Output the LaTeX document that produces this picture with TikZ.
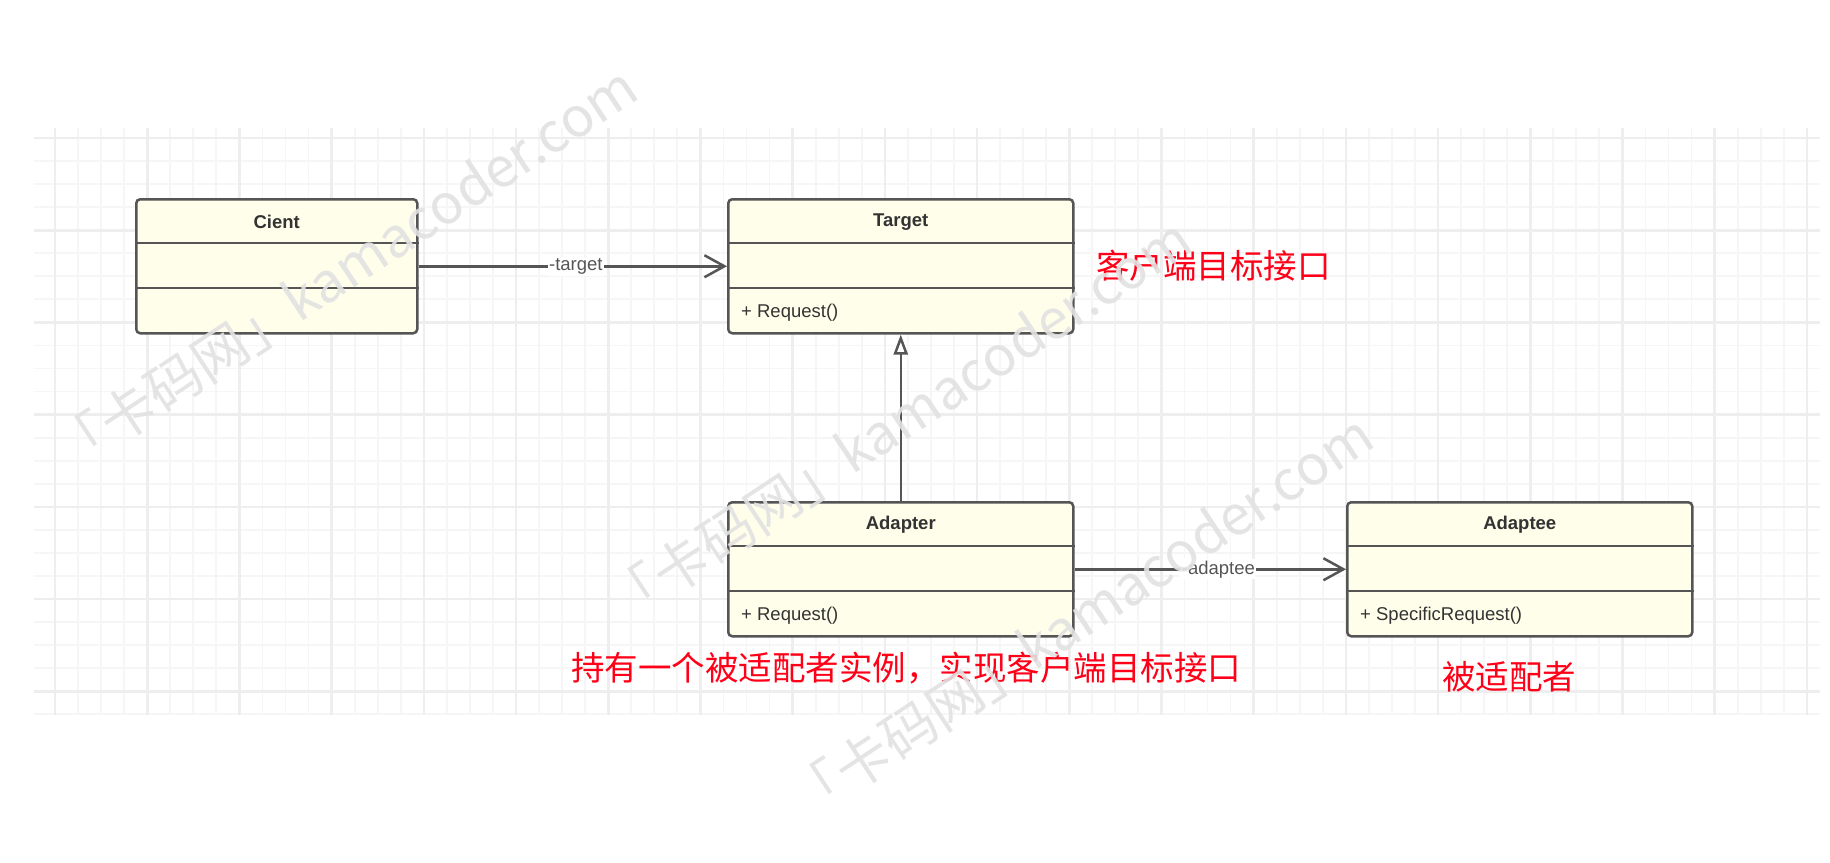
\documentclass[tikz,border=0pt]{standalone}
\usepackage{fontspec}
\setmainfont{Liberation Sans}
\newfontfamily\cjk{Noto Sans CJK SC}
\usetikzlibrary{arrows.meta}
\definecolor{linec}{HTML}{555555}
\definecolor{textc}{HTML}{333333}
\definecolor{clsfill}{HTML}{FEFEEA}
\definecolor{minorc}{HTML}{F6F6F6}
\definecolor{majorc}{HTML}{EEEEEE}
\definecolor{notered}{HTML}{FF0018}
\definecolor{wmark}{HTML}{E2E2E2}
\tikzset{
  cls/.style={draw=linec, fill=clsfill, line width=2.5pt, rounded corners=4pt,
    minimum width=#1, minimum height=134pt, inner sep=0pt, anchor=north west, rectangle},
  divider/.style={draw=linec, line width=2.5pt},
  clstitle/.style={font=\fontsize{18.5}{22}\selectfont\bfseries, text=textc, inner sep=0pt},
  method/.style={font=\fontsize{18.5}{22}\selectfont, text=textc, inner sep=0pt, anchor=west},
  assoc/.style={draw=linec, line width=2.5pt, -{Straight Barb[length=20pt, width=22pt, line width=2.5pt]}},
  inherit/.style={draw=linec, line width=2.5pt, -{Triangle[length=20pt, width=14pt, fill=white, line width=2.5pt]}},
  edgelabel/.style={font=\fontsize{18.5}{22}\selectfont, text=linec, fill=white, inner sep=1.5pt},
  note/.style={font=\cjk\fontsize{33.5}{38}\selectfont, text=notered, inner sep=0pt, anchor=west},
  wm/.style={font=\cjk\fontsize{55}{60}\selectfont, text=wmark, opacity=0.9, rotate=33.5, inner sep=0pt},
  minorgrid/.style={draw=minorc, line width=1.8pt},
  majorgrid/.style={draw=majorc, line width=2.6pt},
}
\begin{document}
\begin{tikzpicture}[x=1pt, y=-1pt]
\useasboundingbox (0,0) rectangle (1830,862);
\fill[white] (0,0) rectangle (1830,862);
% grid
\foreach \i in {0,...,76} \draw[minorgrid] ({55+23.05*\i},128) -- ({55+23.05*\i},715);
\foreach \i in {0,...,25} \draw[minorgrid] (34,{138+23.05*\i}) -- (1820,{138+23.05*\i});
\foreach \i in {0,...,19} \draw[majorgrid] ({55+92.2*\i},128) -- ({55+92.2*\i},715);
\foreach \i in {0,...,6} \draw[majorgrid] (34,{138+92.2*\i}) -- (1820,{138+92.2*\i});

% classes
\node[cls=281pt] (cient) at (135,198) {};
\node[cls=345pt] (target) at (727,198) {};
\node[cls=345pt] (adapter) at (727,501) {};
\node[cls=345pt] (adaptee) at (1346,501) {};

\foreach \c in {cient,target,adapter,adaptee} {
  \draw[divider] ([yshift=-45pt]\c.north west) -- ([yshift=-45pt]\c.north east);
  \draw[divider] ([yshift=-90pt]\c.north west) -- ([yshift=-90pt]\c.north east);
}

\node[clstitle] (cientT) at ([yshift=-24pt]cient.north) {Cient};
\node[clstitle] (targetT) at ([yshift=-24pt]target.north) {Target};
\node[clstitle] (adapterT) at ([yshift=-24pt]adapter.north) {Adapter};
\node[clstitle] (adapteeT) at ([yshift=-24pt]adaptee.north) {Adaptee};

\node[method] (targetM) at ([xshift=14pt, yshift=-115pt]target.north west) {+ Request()};
\node[method] (adapterM) at ([xshift=14pt, yshift=-115pt]adapter.north west) {+ Request()};
\node[method] (adapteeM) at ([xshift=14pt, yshift=-115pt]adaptee.north west) {+ SpecificRequest()};

% connectors
\draw[assoc] (cient.east) -- node[edgelabel, pos=0.51] (lt) {-target} (target.west);
\draw[assoc] (adapter.east) -- node[edgelabel, pos=0.53] (la) {-adaptee} (adaptee.west);
\draw[inherit] (adapter.north) -- (target.south);

% notes
\node[note] (n1) at (1096,266) {客户端目标接口};
\node[note] (n2) at (571,668) {持有一个被适配者实例，实现客户端目标接口};
\node[note] (n3) at (1442,677) {被适配者};

% watermarks
\node[wm] (w1) at (345,269) {「卡码网」kamacoder.com};
\node[wm] (w2) at (898,421) {「卡码网」kamacoder.com};
\node[wm] (w3) at (1080,617) {「卡码网」kamacoder.com};
\end{tikzpicture}
\end{document}
